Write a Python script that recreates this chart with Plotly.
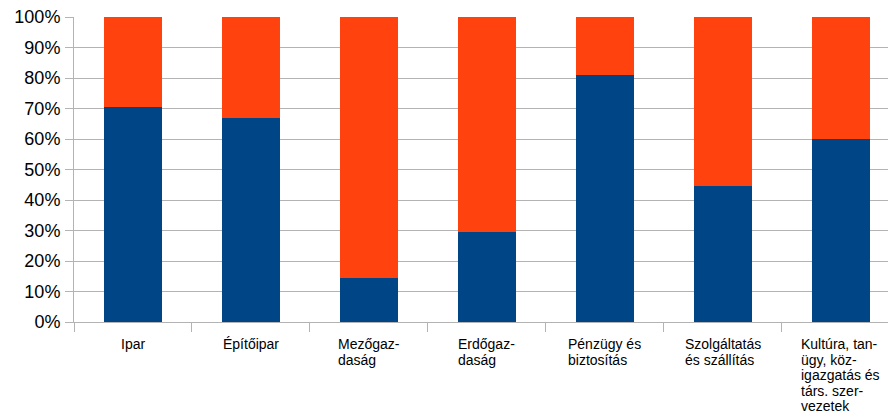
import plotly.graph_objects as go

# Ágazatok és arányok (%)
categories = [
    ["Ipar"],
    ["Építőipar"],
    ["Mezőgaz-", "daság"],
    ["Erdőgaz-", "daság"],
    ["Pénzügy és", "biztosítás"],
    ["Szolgáltatás", "és szállítás"],
    ["Kultúra, tan-", "ügy, köz-", "igazgatás és", "társ. szer-", "vezetek"],
]
blue_values = [70.5, 67.0, 14.5, 29.5, 81.0, 44.5, 60.0]
orange_values = [100 - v for v in blue_values]
y_ticks = [0, 10, 20, 30, 40, 50, 60, 70, 80, 90, 100]

BLUE = "#004586"
ORANGE = "#ff420e"
GRID = "#b3b3b3"
FONT = "Liberation Sans"

x_idx = list(range(len(categories)))

fig = go.Figure()
fig.add_trace(go.Bar(x=x_idx, y=blue_values, marker=dict(color=BLUE, line=dict(width=0))))
fig.add_trace(go.Bar(x=x_idx, y=orange_values, marker=dict(color=ORANGE, line=dict(width=0))))

# Kategória címkék balra igazítva; kisebb alap betűméret -> szorosabb sorköz
for i, lines in zip(x_idx, categories):
    text = "<br>".join(f'<span style="font-size:14px">{ln}</span>' for ln in lines)
    fig.add_annotation(
        x=i, y=0, xref="x", yref="paper",
        text=text, showarrow=False,
        xanchor="center", yanchor="top", align="left",
        yshift=-12,
        font=dict(family=FONT, size=12, color="#000000"),
    )

fig.update_layout(
    barmode="stack",
    bargap=0.51,
    width=890, height=419,
    margin=dict(l=74, r=2, t=17, b=97),
    paper_bgcolor="white",
    plot_bgcolor="white",
    showlegend=False,
    font=dict(family=FONT, color="#000000"),
    xaxis=dict(
        range=[-0.5, 6.4],
        tickmode="array", tickvals=[i + 0.5 for i in x_idx[:-1]] + [-0.5],
        showticklabels=False,
        ticks="outside", ticklen=9, tickcolor=GRID, tickwidth=1,
        showgrid=False, zeroline=False,
        showline=True, linecolor=GRID, linewidth=1,
        automargin=False,
    ),
    yaxis=dict(
        range=[0, 100],
        tickvals=y_ticks,
        ticktext=[f"{v}%" for v in y_ticks],
        ticks="outside", ticklen=8, tickcolor=GRID, tickwidth=1,
        ticklabelstandoff=1,
        tickfont=dict(family=FONT, size=18, color="#000000"),
        showgrid=True, gridcolor=GRID, gridwidth=1,
        zeroline=False,
        showline=True, linecolor=GRID, linewidth=1,
        automargin=False,
    ),
)

fig.write_html(
    "out.html",
    config={"displayModeBar": False},
    post_script="document.body.style.margin='0';",
)
